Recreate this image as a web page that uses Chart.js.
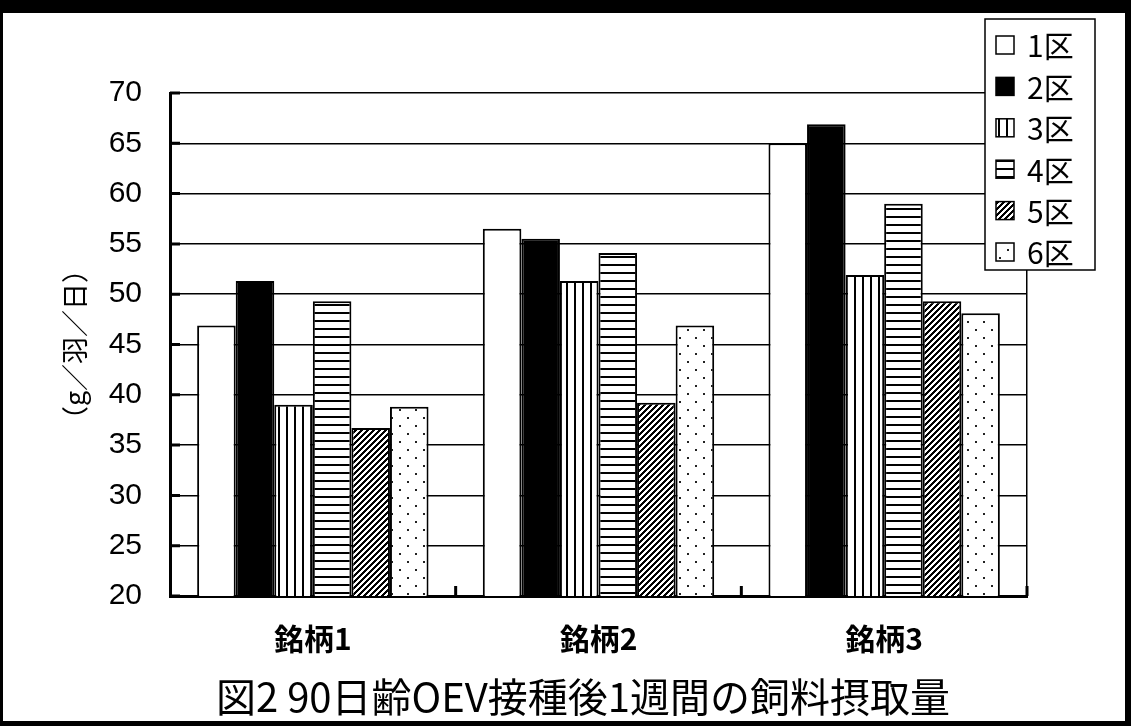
<!DOCTYPE html>
<html>
<head>
<meta charset="utf-8">
<script src="https://cdn.jsdelivr.net/npm/chart.js@4.4.1/dist/chart.umd.min.js"></script>
<style>
  html, body { margin: 0; padding: 0; background: #000; width: 1131px; height: 726px; overflow: hidden; }
  #frame { position: absolute; left: 3px; top: 13px; width: 1122px; height: 708px; background: #fff; }
  canvas { display: block; }
</style>
</head>
<body>
<div id="frame"><canvas id="c" width="1122" height="708"></canvas></div>
<script>
// Feed intake (g per bird per day) in the first week after OEV vaccination at 90 days of age
const categories = ['銘柄1', '銘柄2', '銘柄3'];
const seriesNames = ['1区', '2区', '3区', '4区', '5区', '6区'];
const plot1 = [46.9, 56.5, 65.0];
const plot2 = [51.3, 55.5, 66.9];
const plot3 = [39.0, 51.3, 51.9];
const plot4 = [49.3, 54.1, 59.0];
const plot5 = [36.7, 39.2, 49.3];
const plot6 = [38.8, 46.9, 48.1];
const yMin = 20, yMax = 70, yStep = 5;
const chartTitle = '図2 90日齢OEV接種後1週間の飼料摂取量';
const yTitle = '（g／羽／日）';

const ctx = document.getElementById('c').getContext('2d');

// small monochrome fill patterns
function makePattern(w, h, paint) {
  const c = document.createElement('canvas');
  c.width = w; c.height = h;
  const g = c.getContext('2d');
  g.fillStyle = '#fff';
  g.fillRect(0, 0, w, h);
  g.fillStyle = '#000';
  paint(g, w, h);
  return ctx.createPattern(c, 'repeat');
}
const fillVertical = makePattern(8, 8, (g) => { g.fillRect(3, 0, 2, 8); });
const fillHorizontal = makePattern(8, 8, (g) => { g.fillRect(0, 3, 8, 2); });
const fillDiagonal = makePattern(6, 6, (g, w, h) => {
  for (let x = 0; x < w; x++) for (let y = 0; y < h; y++) {
    if ((x + y) % 6 < 3) g.fillRect(x, y, 1, 1);
  }
});
const fillDots = makePattern(16, 16, (g) => {
  g.fillStyle = '#222';
  g.fillRect(4, 4, 2, 2);
  g.fillRect(12, 12, 2, 2);
});

const fills = ['#fff', '#000', fillVertical, fillHorizontal, fillDiagonal, fillDots];
const seriesValues = [plot1, plot2, plot3, plot4, plot5, plot6];

Chart.defaults.font.family = "'Noto Sans CJK JP', 'Liberation Sans', sans-serif";
Chart.defaults.color = '#000';

// short inward tick marks on both axes
const innerTicks = {
  id: 'innerTicks',
  afterDatasetsDraw(chart) {
    const { ctx, chartArea } = chart;
    const x = chart.scales.x, y = chart.scales.y;
    ctx.save();
    ctx.strokeStyle = '#000';
    ctx.lineWidth = 3;
    ctx.beginPath();
    y.ticks.forEach((t, i) => {
      const py = y.getPixelForTick(i);
      ctx.moveTo(chartArea.left, py);
      ctx.lineTo(chartArea.left + 10, py);
    });
    const half = (x.getPixelForValue(1) - x.getPixelForValue(0)) / 2;
    categories.forEach((c, i) => {
      const px = x.getPixelForValue(i) + half;
      ctx.moveTo(px, chartArea.bottom);
      ctx.lineTo(px, chartArea.bottom - 10);
    });
    ctx.stroke();
    ctx.restore();
  }
};

// boxed legend overlapping the upper right corner of the plot
const boxLegend = {
  id: 'boxLegend',
  afterDraw(chart, args, opts) {
    const { ctx } = chart;
    ctx.save();
    ctx.fillStyle = '#fff';
    ctx.fillRect(opts.left, opts.top, opts.width, opts.height);
    ctx.strokeStyle = '#000';
    ctx.lineWidth = 1.5;
    ctx.strokeRect(opts.left, opts.top, opts.width, opts.height);
    ctx.font = opts.font;
    ctx.textBaseline = 'middle';
    ctx.textAlign = 'left';
    chart.data.datasets.forEach((ds, i) => {
      const cy = opts.firstRow + i * opts.rowStep;
      const s = opts.swatch;
      ctx.fillStyle = ds.backgroundColor;
      ctx.fillRect(opts.swatchX, cy - s / 2, s, s);
      ctx.lineWidth = 1.5;
      ctx.strokeRect(opts.swatchX, cy - s / 2, s, s);
      ctx.fillStyle = '#000';
      ctx.fillText(ds.label, opts.textX, cy + 1);
    });
    ctx.restore();
  }
};

new Chart(ctx, {
  type: 'bar',
  data: {
    labels: categories,
    datasets: seriesNames.map((name, i) => ({
      label: name,
      data: seriesValues[i],
      backgroundColor: fills[i],
      borderColor: '#000',
      borderWidth: 2,
      categoryPercentage: 0.81,
      barPercentage: 1
    }))
  },
  options: {
    responsive: false,
    devicePixelRatio: 1,
    animation: false,
    layout: { padding: { left: 38, top: 80, right: 0, bottom: 0 } },
    plugins: {
      legend: { display: false },
      tooltip: { enabled: false },
      title: {
        display: true,
        position: 'bottom',
        text: chartTitle,
        color: '#000',
        font: { size: 40, weight: 'normal' },
        padding: { top: 9, bottom: 0 }
      },
      boxLegend: {
        left: 982, top: 6, width: 110, height: 251,
        firstRow: 32, rowStep: 41.4,
        swatch: 18, swatchX: 993, textX: 1024,
        font: "30px 'Noto Sans CJK JP'"
      }
    },
    scales: {
      x: {
        type: 'category',
        offset: true,
        grid: { display: true, drawOnChartArea: false, drawTicks: false },
        border: { display: true, color: '#000', width: 3 },
        ticks: { padding: 25, color: '#000', font: { size: 30, weight: 'bold' } },
        afterFit(s) { s.height = 68; }
      },
      y: {
        min: yMin,
        max: yMax,
        ticks: {
          stepSize: yStep,
          padding: 28,
          color: '#000',
          font: { family: "'Liberation Sans', sans-serif", size: 30 }
        },
        grid: { color: '#000', lineWidth: 1.5, drawTicks: false },
        border: { display: true, color: '#000', width: 3 },
        title: {
          display: true,
          text: yTitle,
          color: '#000',
          font: { size: 27, weight: 'normal' },
          padding: { top: 18, bottom: 0 }
        },
        afterFit(s) { s.width = 129; }
      },
      y2: {
        position: 'right',
        min: yMin,
        max: yMax,
        ticks: { display: false },
        grid: { display: false, drawTicks: false },
        border: { display: true, color: '#000', width: 1.5 },
        afterFit(s) { s.width = 98; }
      }
    }
  },
  plugins: [innerTicks, boxLegend]
});
</script>
</body>
</html>
